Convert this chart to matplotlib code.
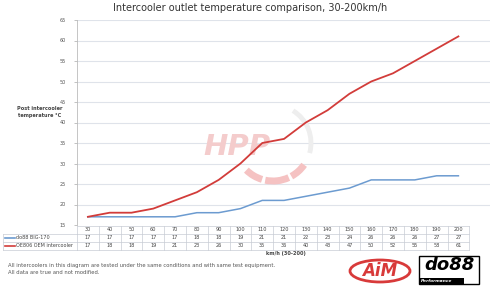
import matplotlib.pyplot as plt
import matplotlib.patches as mpatches
import matplotlib.transforms as mtransforms
import numpy as np

speeds = [30, 40, 50, 60, 70, 80, 90, 100, 110, 120, 130, 140, 150, 160, 170, 180, 190, 200]
do88 = [17, 17, 17, 17, 17, 18, 18, 19, 21, 21, 22, 23, 24, 26, 26, 26, 27, 27]
oem = [17, 18, 18, 19, 21, 23, 26, 30, 35, 36, 40, 43, 47, 50, 52, 55, 58, 61]
series_names = ['do88 BIG-170', 'OE806 OEM intercooler']
yticks = [15, 20, 25, 30, 35, 40, 45, 50, 55, 60, 65]

blue = '#6c9bd0'
red = '#d23c3a'
grid_c = '#dfe3ea'
W, H = 500, 294

fig = plt.figure(figsize=(5, 2.94), dpi=100)
fig.patch.set_facecolor('white')

def fx(px):
    return px / W

def fy(py):
    return 1 - py / H

ax = fig.add_axes([fx(77), fy(225), fx(490) - fx(77), fy(20) - fy(225)])
x = np.arange(len(speeds))
ax.plot(x, do88, color=blue, lw=1.1, zorder=3)
ax.plot(x, oem, color=red, lw=1.3, zorder=3)
ax.set_xlim(-0.5, 18.45)
ax.set_ylim(15, 65)
ax.set_yticks(yticks)
ax.set_yticklabels([str(v) for v in yticks], fontsize=3.5, color='#555555')
ax.tick_params(axis='y', length=2, width=0.5, color='#aaaaaa', pad=6)
ax.set_xticks([])
for v in yticks[1:]:
    ax.axhline(v, color=grid_c, lw=0.8, zorder=1)
for s in ['top', 'right', 'bottom']:
    ax.spines[s].set_visible(False)
ax.spines['left'].set_color('#bbbbbb')
ax.spines['left'].set_linewidth(0.6)

# HPP watermark, kept under the lines
r = 38
cx, cy = 273, 143
arc = mpatches.Arc((fx(cx), fy(cy)), 2 * r / W, 2 * r / H, theta1=-25, theta2=70,
                   transform=fig.transFigure, color='#eeeeee', lw=3.5, zorder=2, clip_on=False)
ax.add_artist(arc)
for t1, t2 in [(-120, -100), (-97, -75), (-72, -50)]:
    seg = mpatches.Arc((fx(cx), fy(cy)), 2 * r / W, 2 * r / H, theta1=t1, theta2=t2,
                       transform=fig.transFigure, color='#f5c2c2', lw=5, zorder=2, clip_on=False)
    ax.add_artist(seg)
ax.text(fx(237), fy(147), 'HPP', transform=fig.transFigure, fontsize=21, fontweight='bold',
        style='italic', color='#f4cccc', ha='center', va='center', zorder=2)

# data table below the axes
trans = mtransforms.blended_transform_factory(ax.transData, fig.transFigure)
row_y = [fy(229.5), fy(237.5), fy(245.5)]
line_y = [fy(225.5), fy(233.5), fy(241.5), fy(249.5)]
tcol = '#c8ccd4'
for k, ly in enumerate(line_y):
    if k > 0:
        fig.add_artist(plt.Line2D([fx(3), fx(77)], [ly, ly], color=tcol, lw=0.5))
    ax.plot([-0.5, 17.5], [ly, ly], transform=trans, color=tcol, lw=0.5, clip_on=False)
for i in range(len(speeds) + 1):
    ax.plot([i - 0.5, i - 0.5], [line_y[0], line_y[-1]], transform=trans, color=tcol, lw=0.5, clip_on=False)
fig.add_artist(plt.Line2D([fx(3), fx(3)], [line_y[1], line_y[-1]], color=tcol, lw=0.5))
for i, sp in enumerate(speeds):
    ax.text(i, row_y[0], str(sp), transform=trans, fontsize=3.6, ha='center', va='center', color='#444444')
    ax.text(i, row_y[1], str(do88[i]), transform=trans, fontsize=3.6, ha='center', va='center', color='#444444')
    ax.text(i, row_y[2], str(oem[i]), transform=trans, fontsize=3.6, ha='center', va='center', color='#444444')
for k, (name, c) in enumerate(zip(series_names, [blue, red])):
    yy = row_y[k + 1]
    fig.add_artist(plt.Line2D([fx(5), fx(15)], [yy, yy], color=c, lw=1.2))
    fig.text(fx(16), yy, name, fontsize=3.5, va='center', color='#444444')

fig.text(fx(286), fy(253), 'km/h (30-200)', fontsize=3.6, fontweight='bold', ha='center', va='center', color='#444444')
fig.text(fx(40), fy(112), 'Post intercooler\ntemperature °C', fontsize=3.6, fontweight='bold',
         ha='center', va='center', color='#444444', linespacing=1.4)

fig.text(fx(250), fy(8), 'Intercooler outlet temperature comparison, 30-200km/h',
         fontsize=7, ha='center', va='center', color='#333333')

fig.text(fx(8), fy(266), 'All intercoolers in this diagram are tested under the same conditions and with same test equipment.',
         fontsize=3.8, va='center', color='#555555')
fig.text(fx(8), fy(273), 'All data are true and not modified.', fontsize=3.8, va='center', color='#555555')

# logos
ell = mpatches.Ellipse((fx(380), fy(271)), fx(60), 22 / H, transform=fig.transFigure,
                       fill=False, ec='#d83a3a', lw=2)
fig.add_artist(ell)
fig.text(fx(380), fy(271), 'AiM', fontsize=12, fontweight='bold', style='italic', color='#d83a3a',
         ha='center', va='center')
box = mpatches.Rectangle((fx(419), fy(284)), fx(60), 28 / H, transform=fig.transFigure,
                         fill=False, ec='black', lw=1)
fig.add_artist(box)
fig.text(fx(449), fy(265), 'do88', fontsize=13, fontweight='bold', style='italic', color='black',
         ha='center', va='center')
bar = mpatches.Rectangle((fx(419), fy(284)), fx(45), 6 / H, transform=fig.transFigure,
                         fc='black', ec='none')
fig.add_artist(bar)
fig.text(fx(421), fy(281), 'Performance', fontsize=3.2, fontweight='bold', style='italic', color='white',
         va='center')

fig.savefig('out.png', dpi=100)
